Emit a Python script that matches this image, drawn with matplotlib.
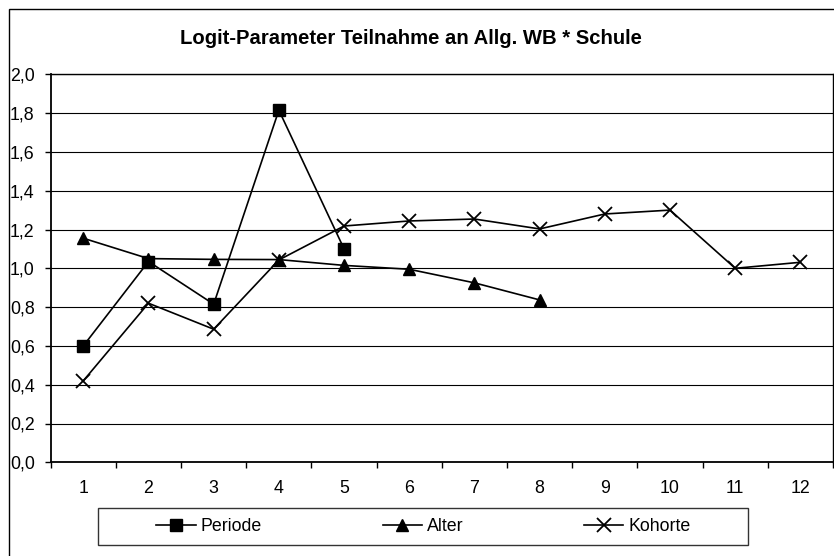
import matplotlib
matplotlib.use("Agg")
import matplotlib.pyplot as plt
from matplotlib.patches import Rectangle

plt.rcParams['font.family'] = ['Liberation Sans', 'DejaVu Sans']

title = "Logit-Parameter Teilnahme an Allg. WB * Schule"
categories = [1, 2, 3, 4, 5, 6, 7, 8, 9, 10, 11, 12]
periode = [0.60, 1.035, 0.815, 1.815, 1.10]
alter = [1.155, 1.05, 1.046, 1.045, 1.015, 0.995, 0.925, 0.837]
kohorte = [0.42, 0.82, 0.686, 1.043, 1.218, 1.244, 1.254, 1.203, 1.28, 1.30, 1.0, 1.031]
yticks = [0.0, 0.2, 0.4, 0.6, 0.8, 1.0, 1.2, 1.4, 1.6, 1.8, 2.0]
ytick_labels = [f"{v:.1f}".replace(".", ",") for v in yticks]
series_names = ["Periode", "Alter", "Kohorte"]

W, H = 834, 556
fig = plt.figure(figsize=(W / 100, H / 100), dpi=100)
ax = fig.add_axes([50.7 / W, 1 - 462.3 / H, (833 - 50.7) / W, (462.3 - 74.3) / H])

lw = 1.2
l1, = ax.plot(categories[:len(periode)], periode, color='black', lw=lw, marker='s',
              markersize=8.5, markerfacecolor='black', markeredgecolor='black',
              clip_on=False, zorder=5)
l2, = ax.plot(categories[:len(alter)], alter, color='black', lw=lw, marker='^',
              markersize=8, markerfacecolor='black', markeredgecolor='black',
              clip_on=False, zorder=5)
l3, = ax.plot(categories, kohorte, color='black', lw=lw, marker='x', markersize=10.5,
              markeredgewidth=1.3, clip_on=False, zorder=5)

ax.set_xlim(0.5, 12.5)
ax.set_ylim(0, 2.0)
ax.set_yticks(yticks)
ax.set_yticklabels(ytick_labels)
ax.yaxis.grid(True, color='black', lw=0.8)
ax.set_axisbelow(True)

# x: tick marks at category boundaries, labels at centers
ax.set_xticks([c + 0.5 for c in [0] + categories])
ax.set_xticklabels([])
ax.set_xticks(categories, minor=True)
ax.set_xticklabels([str(c) for c in categories], minor=True)
ax.tick_params(axis='x', which='major', direction='out', length=4, width=1)
ax.tick_params(axis='x', which='minor', length=0, pad=12.5, labelsize=12.8)
ax.tick_params(axis='y', direction='out', length=4.5, width=1, pad=7, labelsize=12.8)

for s in ax.spines.values():
    s.set_color('black')
    s.set_linewidth(1.0)
ax.spines['left'].set_linewidth(1.3)
ax.spines['bottom'].set_linewidth(1.3)

fig.text(411 / W, 1 - 39 / H, title, ha='center', va='center', fontsize=14.6,
         fontweight='bold')

# outer chart frame
fig.patches.append(Rectangle((9 / W, -0.1), 1.2, 1 - 9 / H + 0.1, transform=fig.transFigure,
                             fill=False, edgecolor='black', lw=1.0))
# legend frame
fig.patches.append(Rectangle((97.7 / W, 1 - 545 / H), (748 - 97.7) / W, 37 / H,
                             transform=fig.transFigure, fill=False, edgecolor='#333333', lw=1.0))

fig.legend([l1, l2, l3], series_names, loc='center', bbox_to_anchor=(423.5 / W, 1 - 526.7 / H),
           ncol=3, frameon=False, fontsize=12.8, columnspacing=6.8, handlelength=2.2,
           handletextpad=0.28, borderpad=0, numpoints=1)

fig.savefig("out.png", dpi=100)
